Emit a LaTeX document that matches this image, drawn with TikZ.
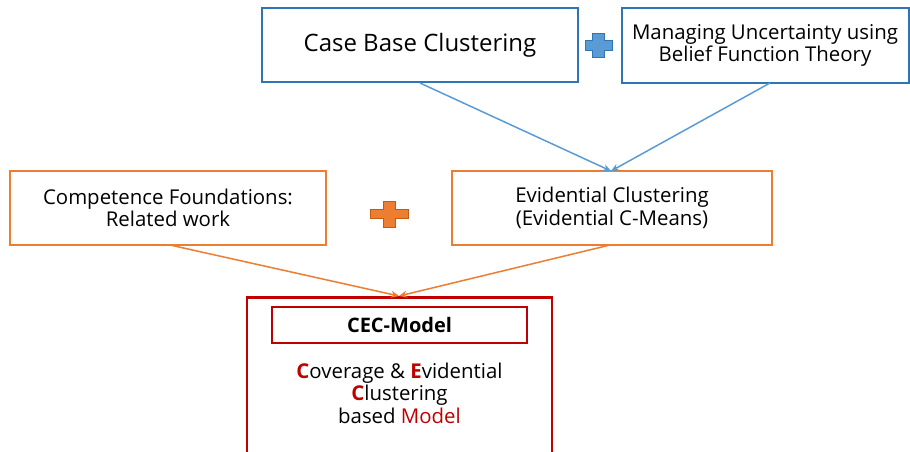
\documentclass[tikz,border=0pt]{standalone}
\usepackage{fontspec}
\setmainfont{Open Sans}
\usetikzlibrary{arrows.meta}
\definecolor{boxblue}{HTML}{2E75B6}
\definecolor{lineblue}{HTML}{5B9BD5}
\definecolor{orng}{HTML}{ED7D31}
\definecolor{orngdark}{HTML}{C55A11}
\definecolor{dred}{HTML}{C00000}
\tikzset{
  bluebox/.style={draw=boxblue,line width=2pt,rectangle,inner sep=0pt,align=center},
  orangebox/.style={draw=orng,line width=2pt,rectangle,inner sep=0pt,align=center},
  redbox/.style={draw=dred,line width=2.5pt,rectangle,inner sep=0pt,align=center},
  bodytext/.style={font=\fontsize{20.4}{22.5}\selectfont},
  bluearrow/.style={draw=lineblue,line width=1.5pt,-{Stealth[length=8pt,width=7pt]}},
  orangearrow/.style={draw=orng,line width=1.5pt,-{Stealth[length=8pt,width=7pt]}},
}
\begin{document}
\begin{tikzpicture}[x=1pt,y=-1pt]
\useasboundingbox (0,0) rectangle (910,451);
% top boxes
\node[bluebox,minimum width=316pt,minimum height=74pt,font=\fontsize{24}{28}\selectfont] (cbc) at (420,45) {Case Base Clustering};
\node[bluebox,bodytext,minimum width=287pt,minimum height=75pt] (mu) at (765,45.5) {Managing Uncertainty using\\Belief Function Theory};
% blue plus
\fill[lineblue,draw=boxblue,line width=0.5pt] (592,33) -- (604,33) -- (604,40) -- (612,40) -- (612,50) -- (604,50) -- (604,57) -- (592,57) -- (592,50) -- (585,50) -- (585,40) -- (592,40) -- cycle;
% middle boxes
\node[orangebox,bodytext,minimum width=316pt,minimum height=74pt] (cf) at (168,208) {Competence Foundations:\\Related work};
\node[orangebox,bodytext,minimum width=320pt,minimum height=74pt] (ec) at (612,208) {Evidential Clustering\\(Evidential C-Means)};
% orange plus
\fill[orng,draw=orngdark,line width=0.8pt] (383,201) -- (395,201) -- (395,209) -- (408,209) -- (408,218) -- (395,218) -- (395,227) -- (383,227) -- (383,218) -- (370,218) -- (370,209) -- (383,209) -- cycle;
% CEC box
\node[redbox,minimum width=305pt,minimum height=170pt,anchor=north] (cec) at (399.5,296) {};
\node[redbox,minimum width=255pt,minimum height=36pt,font=\bfseries\fontsize{20}{22}\selectfont] (cecm) at (399.5,325) {CEC-Model};
\node[bodytext,align=center] (desc) at (399.5,393) {{\color{dred}\textbf{C}}overage \& {\color{dred}\textbf{E}}vidential\\{\color{dred}\textbf{C}}lustering\\based {\color{dred}Model}};
% coordinates for arrow ends
\coordinate (cbcout) at (420,83);
\coordinate (muout) at (770,83);
\coordinate (ecin) at (611,171);
\coordinate (cfout) at (170,245);
\coordinate (ecout) at (610,245);
\coordinate (cecin) at (399,296);
\draw[bluearrow] (cbcout) -- (ecin);
\draw[bluearrow] (muout) -- (ecin);
\draw[orangearrow] (cfout) -- (cecin);
\draw[orangearrow] (ecout) -- (cecin);
\end{tikzpicture}
\end{document}
